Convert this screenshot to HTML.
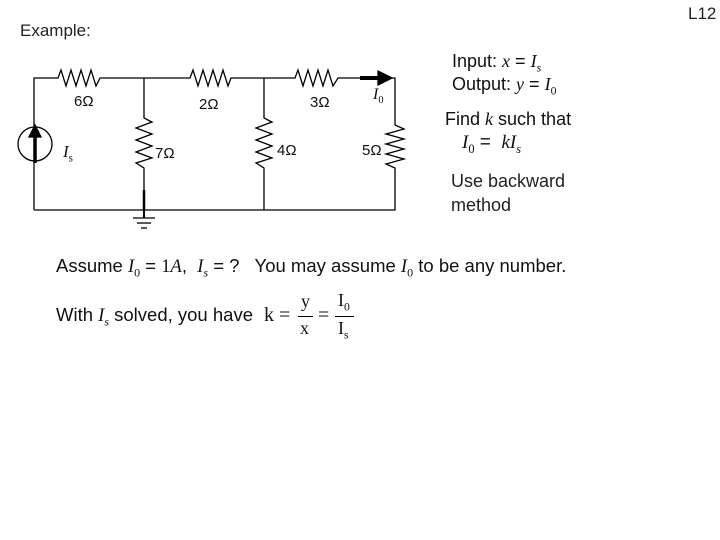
<!DOCTYPE html>
<html><head><style>
body{margin:0;width:720px;height:540px;background:#fff;overflow:hidden;position:relative;font-family:"Liberation Sans",sans-serif}
.t{position:absolute;white-space:nowrap;color:#111}
.m{font-family:"Liberation Serif",serif;font-style:italic}
.r{font-family:"Liberation Serif",serif}
sub{font-size:65%}
</style></head><body>
<div class="t" style="left:20px;top:21px;font-size:17px;color:#222">Example:</div>
<div class="t" style="left:688px;top:4px;font-size:17px;color:#222">L12</div>
<svg width="720" height="540" style="position:absolute;left:0;top:0" fill="none" stroke="#000" stroke-width="1.3">
<polyline points="34,210 34,78 58,78 61,70 66,86 71,70 76,86 81,70 86,86 91,70 96,86 100,78 190,78 193,70 198,86 203,70 208,86 213,70 218,86 223,70 228,86 231,78 295,78 298,70 303,86 308,70 313,86 318,70 323,86 328,70 333,86 338,78 395,78 395,125"/>
<polyline points="395,125 404,129 386,134 404,139 386,144 404,149 386,154 404,159 386,164 395,168 395,210 34,210"/>
<polyline points="144,78 144,118 152,122 136,128 152,134 136,140 152,146 136,152 152,158 136,163 144,168 144,210"/>
<polyline points="264,78 264,118 272,122 256,128 272,134 256,140 272,146 256,152 272,158 256,163 264,168 264,210"/>
<line x1="144" y1="210" x2="144" y2="218" stroke-width="2"/>
<line x1="133" y1="218" x2="155" y2="218"/><line x1="137" y1="223" x2="151" y2="223"/><line x1="141" y1="228" x2="147" y2="228"/>
<circle cx="35" cy="144" r="17" fill="#fff"/>
<line x1="35" y1="163" x2="35" y2="134" stroke-width="3.5"/>
<polygon points="35,125 29,137 41,137" fill="#000"/>
<line x1="360" y1="78" x2="380" y2="78" stroke-width="4"/>
<polygon points="392,78 378,71 378,85" fill="#000"/>
<line x1="144" y1="190" x2="144" y2="210" stroke-width="2.5"/>
</svg>
<div class="t" style="left:74px;top:93px;font-size:15px">6Ω</div>
<div class="t" style="left:199px;top:96px;font-size:15px">2Ω</div>
<div class="t" style="left:310px;top:94px;font-size:15px">3Ω</div>
<div class="t m" style="left:373px;top:86px;font-size:16px">I<sub style="font-style:normal">0</sub></div>
<div class="t" style="left:155px;top:145px;font-size:15px">7Ω</div>
<div class="t" style="left:277px;top:142px;font-size:15px">4Ω</div>
<div class="t" style="left:362px;top:142px;font-size:15px">5Ω</div>
<div class="t m" style="left:63px;top:142px;font-size:17px">I<sub style="font-style:normal">s</sub></div>
<div class="t" style="left:452px;top:51px;font-size:18px">Input: <span class="m">x</span> = <span class="m">I<sub>s</sub></span></div>
<div class="t" style="left:452px;top:74px;font-size:18px">Output: <span class="m">y</span> = <span class="m">I</span><sub class="r">0</sub></div>
<div class="t" style="left:445px;top:109px;font-size:18px">Find <span class="m">k</span> such that</div>
<div class="t" style="left:462px;top:132px;font-size:19px"><span class="m">I</span><sub class="r">0</sub> = &nbsp;<span class="m">kI<sub>s</sub></span></div>
<div class="t" style="left:451px;top:171px;font-size:18px;color:#222">Use backward</div>
<div class="t" style="left:451px;top:195px;font-size:18px;color:#222">method</div>
<div class="t" style="left:56px;top:255px;font-size:18.5px">Assume <span class="m">I</span><sub class="r">0</sub> = <span class="r">1</span><span class="m">A</span>, &nbsp;<span class="m">I<sub>s</sub></span> = ? &nbsp; You may assume <span class="m">I</span><sub class="r">0</sub> to be any number.</div>
<div class="t" style="left:56px;top:304px;font-size:18.5px">With <span class="m">I<sub>s</sub></span> solved, you have</div>
<div class="t r" style="left:264px;top:304px;font-size:20px">k =</div>
<div class="t r" style="left:301px;top:291px;font-size:18px">y</div>
<div class="t r" style="left:300px;top:318px;font-size:18px">x</div>
<div style="position:absolute;left:298px;top:316px;width:15px;height:1px;background:#000"></div>
<div class="t r" style="left:318px;top:304px;font-size:20px">=</div>
<div class="t r" style="left:338px;top:290px;font-size:18px">I<sub>0</sub></div>
<div class="t r" style="left:338px;top:318px;font-size:18px">I<sub>s</sub></div>
<div style="position:absolute;left:335px;top:316px;width:19px;height:1px;background:#000"></div>
</body></html>
